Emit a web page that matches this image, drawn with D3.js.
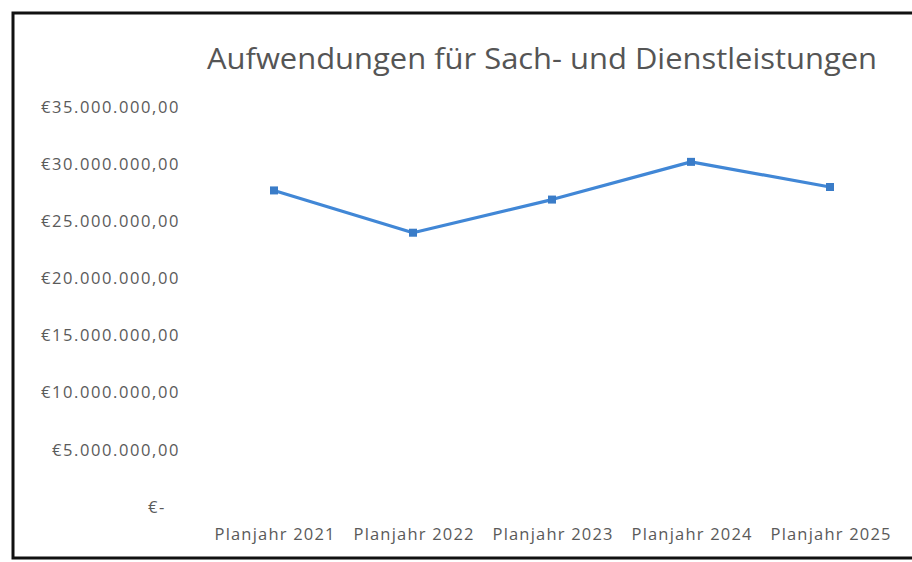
<!DOCTYPE html>
<html><head><meta charset="utf-8">
<script src="https://cdn.jsdelivr.net/npm/d3@7"></script>
<style>body{margin:0;background:#fff;} text{font-family:"Open Sans", sans-serif;}</style>
</head><body>
<svg id="c" width="912" height="562"></svg>
<script>
const categories = ["Planjahr 2021","Planjahr 2022","Planjahr 2023","Planjahr 2024","Planjahr 2025"];
const values = [27700000, 24000000, 26900000, 30200000, 28000000];
const yTicks = [0,5000000,10000000,15000000,20000000,25000000,30000000,35000000];
const title = "Aufwendungen für Sach- und Dienstleistungen";

const svg = d3.select("#c");
svg.append("rect").attr("x",13).attr("y",13).attr("width",920).attr("height",545)
  .attr("fill","#fff").attr("stroke","#111").attr("stroke-width",3);

const x = d3.scalePoint().domain(categories).range([274,830]);
const y = d3.scaleLinear().domain([0,35000000]).range([507,107]);

const fmt = v => v===0 ? "€-" : "€" + d3.format(",.2f")(v).replace(/,/g,"#").replace(/\./g,",").replace(/#/g,".");

svg.append("text").attr("x",542).attr("y",69).attr("text-anchor","middle")
  .attr("font-size",29).attr("fill","#555").attr("font-family","Lato, sans-serif")
  .attr("textLength",670).attr("lengthAdjust","spacingAndGlyphs").text(title);

const ya = svg.append("g").attr("transform","translate(180,0)")
  .call(d3.axisLeft(y).tickValues(yTicks).tickFormat(fmt).tickSize(0).tickPadding(0));
ya.select(".domain").remove();
ya.selectAll("text").attr("font-size",16.5).attr("fill","#5a5a5a").attr("font-family","'Open Sans', sans-serif")
  .attr("letter-spacing","1.6px")
  .attr("dx", d => d===0 ? -14 : 0);

const xa = svg.append("g").attr("transform","translate(0,528)")
  .call(d3.axisBottom(x).tickSize(0).tickPadding(0));
xa.select(".domain").remove();
xa.selectAll("text").attr("font-size",16.5).attr("fill","#5a5a5a").attr("font-family","'Open Sans', sans-serif")
  .attr("letter-spacing","1.2px").attr("dx","0.6px");

const line = d3.line().x((d,i)=>x(categories[i])).y(d=>y(d));
svg.append("path").datum(values).attr("d",line).attr("fill","none")
  .attr("stroke","#4187d6").attr("stroke-width",3.2).attr("stroke-linejoin","round");
svg.selectAll("rect.m").data(values).join("rect").attr("class","m")
  .attr("x",(d,i)=>x(categories[i])-4).attr("y",d=>y(d)-4).attr("width",8).attr("height",8)
  .attr("fill","#3a7cc8");
</script>
</body></html>
